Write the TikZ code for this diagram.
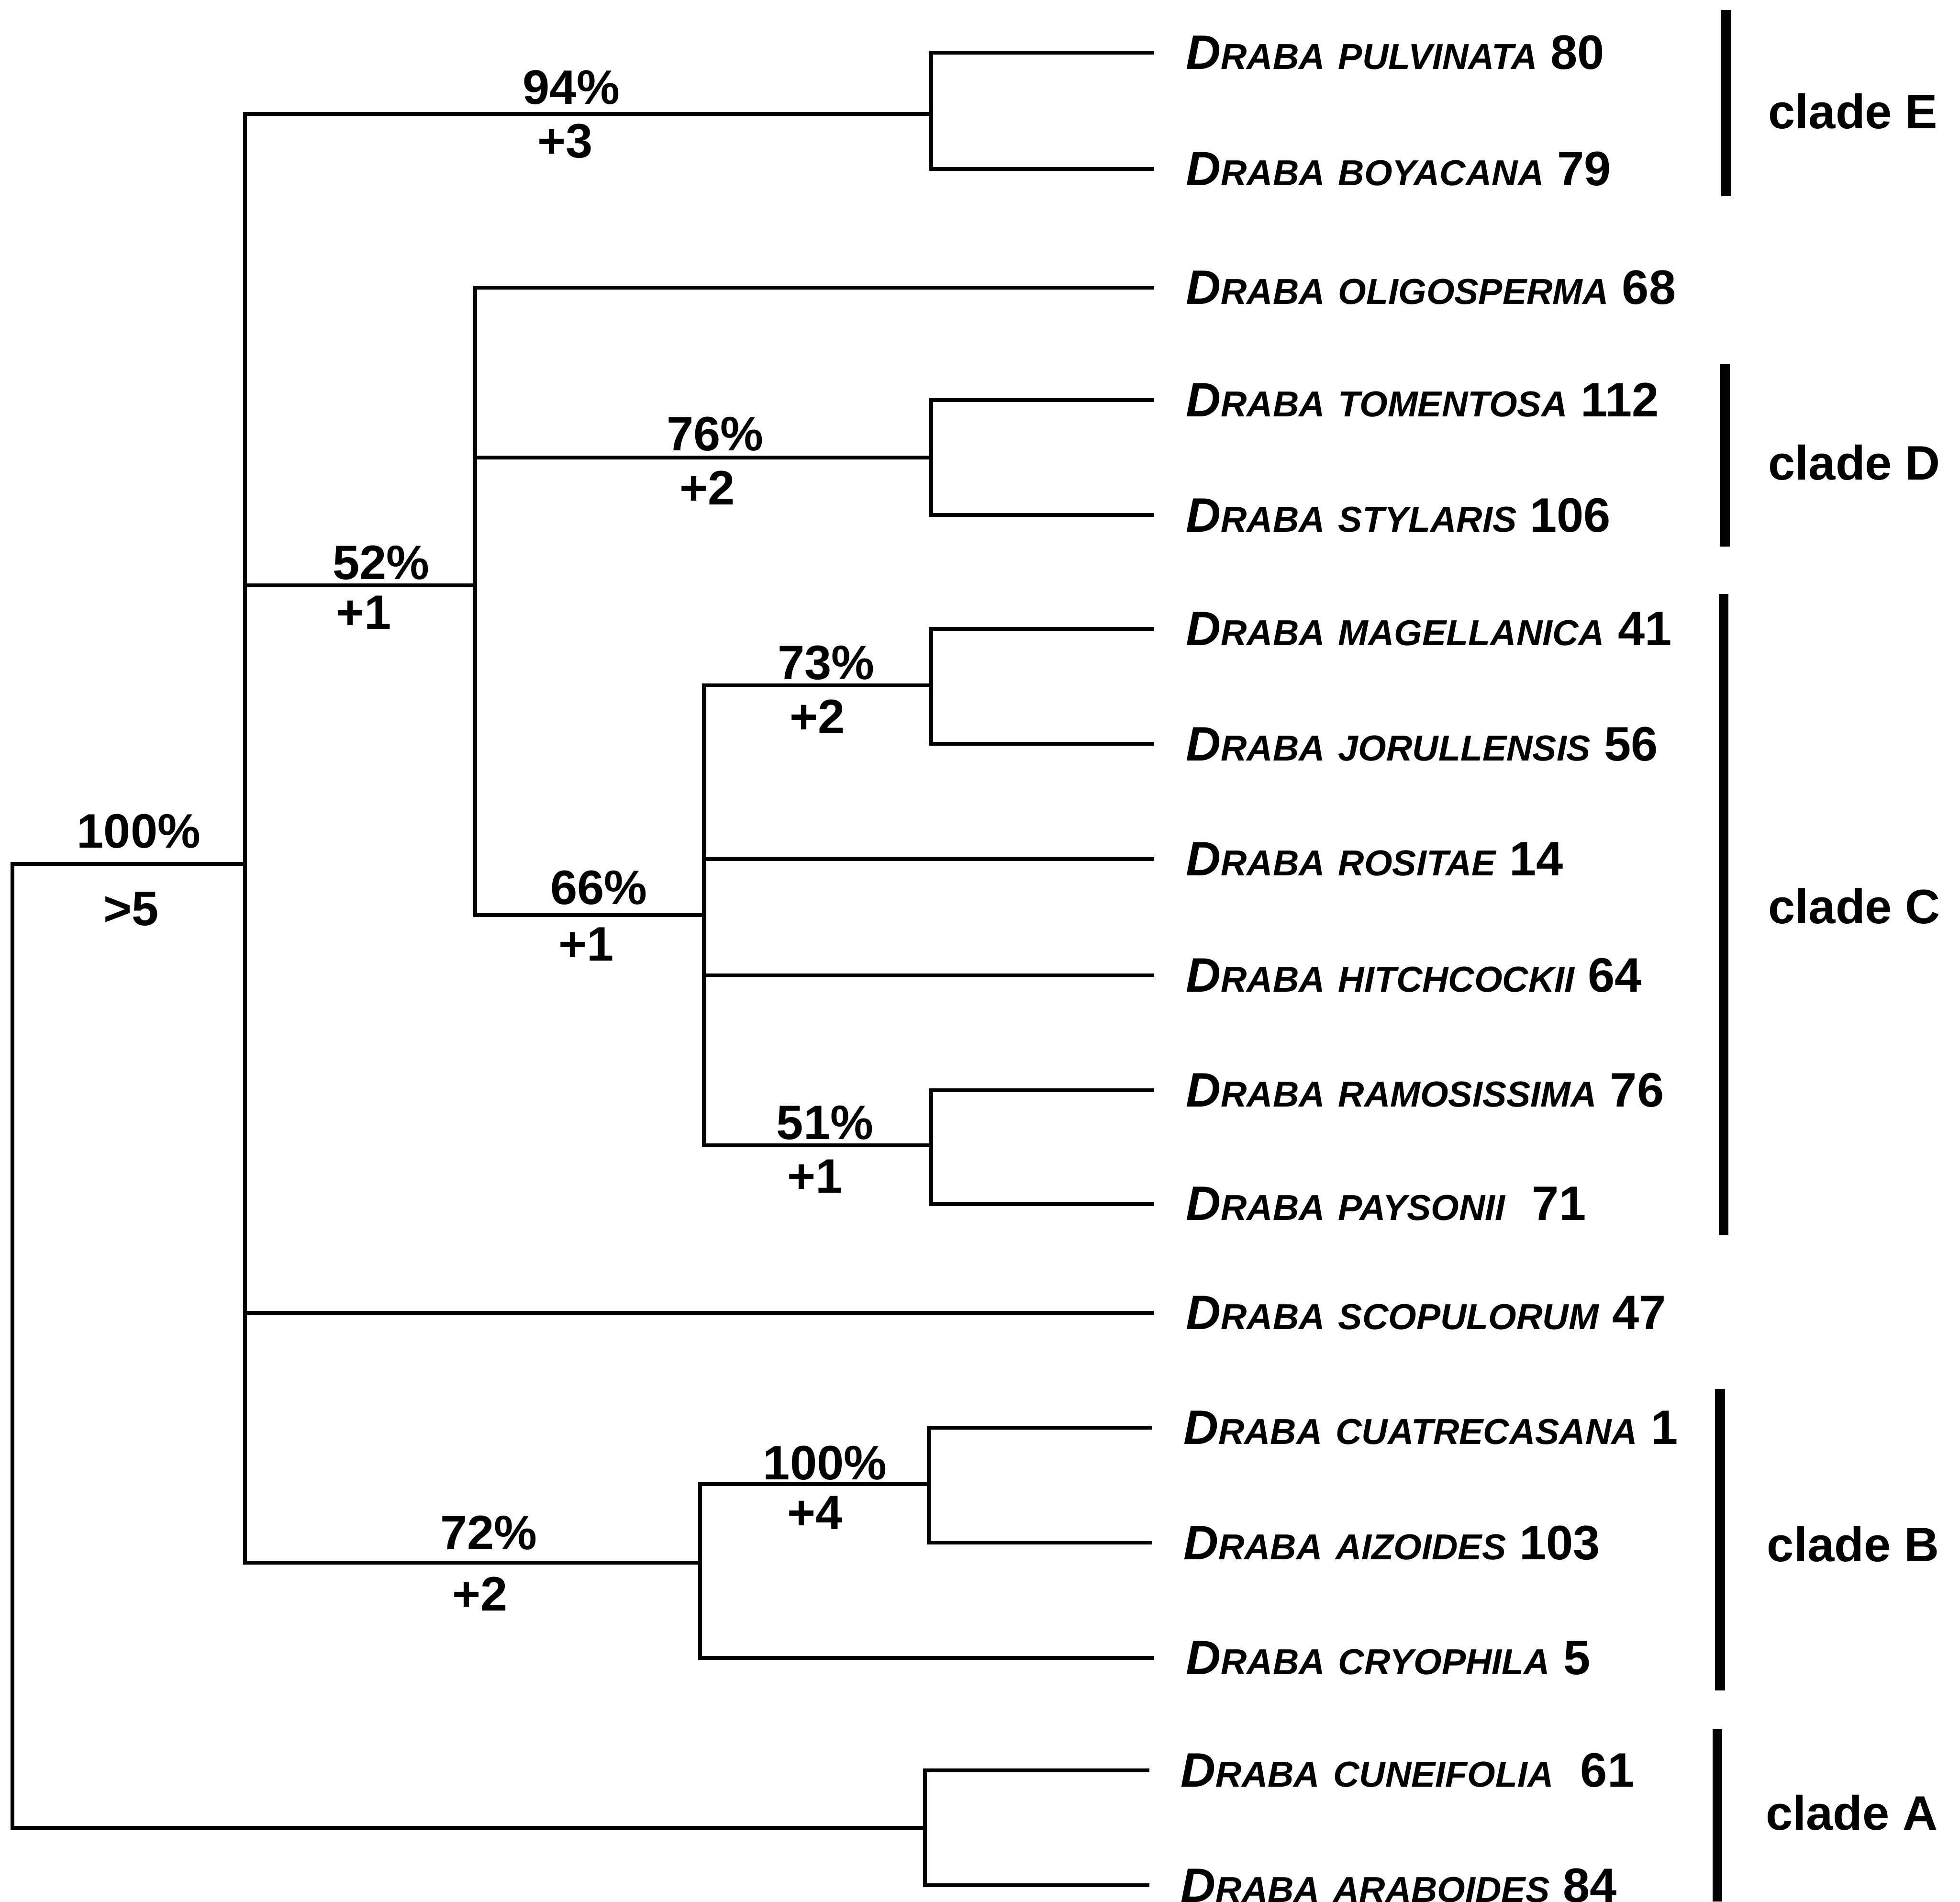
\documentclass[tikz,border=0pt]{standalone}
\usepackage{fontspec}
\setmainfont{Liberation Sans}
\usetikzlibrary{positioning}
\newcommand{\smc}[1]{{\fontsize{8.2}{9}\selectfont\MakeUppercase{#1}}}
\newcommand{\taxon}[2]{{\itshape D\smc{raba} \smc{#1}} #2}
\tikzset{
  % Base styles
  tree base/.style={
    x=0.01cm, y=-0.01cm,
    every node/.style={font=\fontsize{11}{13}\selectfont\bfseries},
  },
  % Tree lines
  branch/.style={line width=0.85pt, line cap=rect},
  clade bar/.style={line width=2.2pt},
  % Labels
  taxon label/.style={anchor=west, inner sep=0pt},
  support label/.style={inner sep=0pt},
  clade label/.style={anchor=west, inner sep=0pt},
}

\begin{document}
\begin{tikzpicture}[tree base]
\useasboundingbox (0,0) rectangle (1568,1521);

% Internal nodes
\coordinate (root) at (10,691);
\coordinate (nIn) at (196,691);
\coordinate (nE) at (745,91);
\coordinate (n52) at (380,468);
\coordinate (nD) at (745,366);
\coordinate (n66) at (563,732);
\coordinate (n73) at (745,548);
\coordinate (n51) at (745,916);
\coordinate (n72) at (560,1250);
\coordinate (n100) at (743,1187);
\coordinate (nA) at (740,1462);

% Tips
\coordinate (tPulv) at (922,42);
\coordinate (tBoya) at (922,135);
\coordinate (tOlig) at (922,230);
\coordinate (tTome) at (922,320);
\coordinate (tStyl) at (922,412);
\coordinate (tMage) at (922,503);
\coordinate (tJoru) at (922,595);
\coordinate (tRosi) at (922,687);
\coordinate (tHitc) at (922,780);
\coordinate (tRamo) at (922,872);
\coordinate (tPays) at (922,963);
\coordinate (tScop) at (922,1050);
\coordinate (tCuat) at (920,1142);
\coordinate (tAizo) at (920,1234);
\coordinate (tCryo) at (922,1326);
\coordinate (tCune) at (918,1416);
\coordinate (tArab) at (918,1508);

% Taxon labels
\node[taxon label, right=0.26cm of tPulv] (lPulv) {\taxon{pulvinata}{80}};
\node[taxon label, right=0.26cm of tBoya] (lBoya) {\taxon{boyacana}{79}};
\node[taxon label, right=0.26cm of tOlig] (lOlig) {\taxon{oligosperma}{68}};
\node[taxon label, right=0.26cm of tTome] (lTome) {\taxon{tomentosa}{112}};
\node[taxon label, right=0.26cm of tStyl] (lStyl) {\taxon{stylaris}{106}};
\node[taxon label, right=0.26cm of tMage] (lMage) {\taxon{magellanica}{41}};
\node[taxon label, right=0.26cm of tJoru] (lJoru) {\taxon{jorullensis}{56}};
\node[taxon label, right=0.26cm of tRosi] (lRosi) {\taxon{rositae}{14}};
\node[taxon label, right=0.26cm of tHitc] (lHitc) {\taxon{hitchcockii}{64}};
\node[taxon label, right=0.26cm of tRamo] (lRamo) {\taxon{ramosissima}{76}};
\node[taxon label, right=0.26cm of tPays] (lPays) {\taxon{paysonii}{~71}};
\node[taxon label, right=0.26cm of tScop] (lScop) {\taxon{scopulorum}{47}};
\node[taxon label, right=0.26cm of tCuat] (lCuat) {\taxon{cuatrecasana}{1}};
\node[taxon label, right=0.26cm of tAizo] (lAizo) {\taxon{aizoides}{103}};
\node[taxon label, right=0.26cm of tCryo] (lCryo) {\taxon{cryophila}{5}};
\node[taxon label, right=0.26cm of tCune] (lCune) {\taxon{cuneifolia}{~61}};
\node[taxon label, right=0.26cm of tArab] (lArab) {\taxon{araboides}{84}};

% Branches
\foreach \p/\c in {root/nIn, root/nA,
    nIn/nE, nIn/n52, nIn/tScop, nIn/n72,
    nE/tPulv, nE/tBoya,
    n52/tOlig, n52/nD, n52/n66,
    nD/tTome, nD/tStyl,
    n66/n73, n66/tRosi, n66/tHitc, n66/n51,
    n73/tMage, n73/tJoru,
    n51/tRamo, n51/tPays,
    n72/n100, n72/tCryo,
    n100/tCuat, n100/tAizo,
    nA/tCune, nA/tArab}
  \draw[branch] (\p) |- (\c);

% Support values
\node[support label] (s100r) at (111,665) {100\%};
\node[support label] (d100r) at (105,727) {>5};
\node[support label] (s94) at (457,70) {94\%};
\node[support label] (d94) at (452,113) {+3};
\node[support label] (s52) at (305,450) {52\%};
\node[support label] (d52) at (291,490) {+1};
\node[support label] (s76) at (572,347) {76\%};
\node[support label] (d76) at (566,390) {+2};
\node[support label] (s66) at (479,710) {66\%};
\node[support label] (d66) at (469,755) {+1};
\node[support label] (s73) at (661,530) {73\%};
\node[support label] (d73) at (654,573) {+2};
\node[support label] (s51) at (660,898) {51\%};
\node[support label] (d51) at (652,941) {+1};
\node[support label] (s72) at (391,1226) {72\%};
\node[support label] (d72) at (384,1275) {+2};
\node[support label] (s100b) at (660,1170) {100\%};
\node[support label] (d100b) at (652,1210) {+4};

% Clade bars
\coordinate (eTop) at (1381,8);
\coordinate (eBot) at (1381,157);
\coordinate (dTop) at (1380,291);
\coordinate (dBot) at (1380,437);
\coordinate (cTop) at (1379,475);
\coordinate (cBot) at (1379,988);
\coordinate (bTop) at (1376,1111);
\coordinate (bBot) at (1376,1352);
\coordinate (aTop) at (1374,1383);
\coordinate (aBot) at (1374,1521);
\foreach \t/\b in {eTop/eBot, dTop/dBot, cTop/cBot, bTop/bBot, aTop/aBot}
  \draw[clade bar] (\t) -- (\b);

\node[clade label] (cladeE) at (1414,89) {clade E};
\node[clade label] (cladeD) at (1414,370) {clade D};
\node[clade label] (cladeC) at (1414,725) {clade C};
\node[clade label] (cladeB) at (1413,1235) {clade B};
\node[clade label] (cladeA) at (1412,1450) {clade A};
\end{tikzpicture}
\end{document}
